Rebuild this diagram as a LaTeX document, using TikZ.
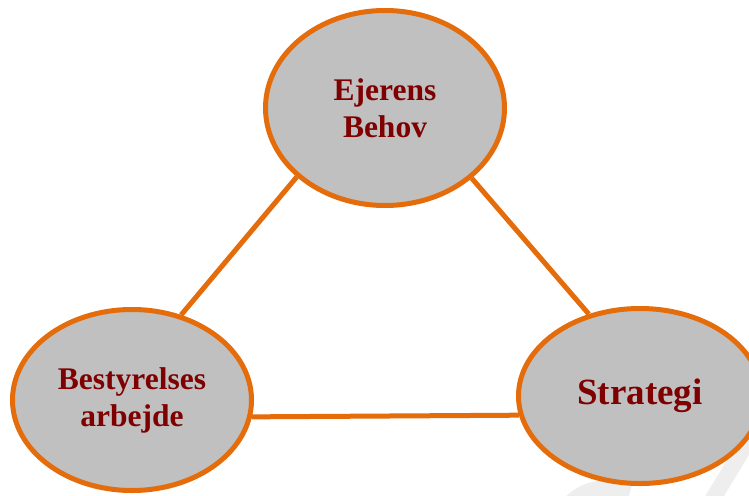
\documentclass[tikz,border=0pt]{standalone}
\usepackage{fontspec}
\setmainfont{Liberation Serif}
\usetikzlibrary{shapes.geometric,backgrounds}
\definecolor{ringorange}{HTML}{E46C0A}
\definecolor{fillgray}{HTML}{C0C0C0}
\definecolor{textred}{HTML}{7F0000}
\definecolor{wmgray}{HTML}{EEEEEE}
\tikzset{
  bubble/.style={ellipse, draw=ringorange, fill=fillgray, line width=5pt,
    inner sep=0pt, text=textred, align=center,
    font=\bfseries\fontsize{31.5}{37}\selectfont},
  link/.style={draw=ringorange, line width=5pt},
  watermark/.style={draw=wmgray, line width=16pt}
}
\begin{document}
\begin{tikzpicture}[x=1pt,y=-1pt]
\useasboundingbox (0,0) rectangle (749,495);
\node[bubble, minimum width=239pt, minimum height=195pt] (top) at (385,108) {Ejerens\\Behov};
\node[bubble, minimum width=239pt, minimum height=181pt] (left) at (132,400) {Bestyrelses\\arbejde};
\node[bubble, minimum width=243pt, minimum height=175pt, font=\bfseries\fontsize{37}{42}\selectfont] (right) at (640,396) {Strategi};
\begin{scope}[on background layer]
  % faint watermark fragments
  \draw[watermark] (770,405) -- (700,520);
  \draw[watermark] (565,510) .. controls (580,488) and (605,484) .. (630,492);
  % connectors
  \draw[link] (top.218) -- (left.60.5);
  \draw[link] (top.-39.6) -- (right.122.7);
  \draw[link] (left.-8) -- (right.189.7);
\end{scope}
\end{tikzpicture}
\end{document}
